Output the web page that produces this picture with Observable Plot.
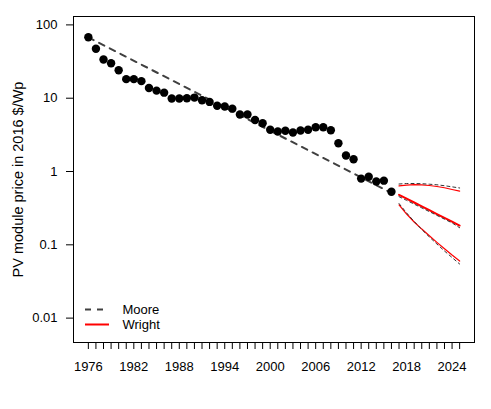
<!DOCTYPE html>
<html><head><meta charset="utf-8">
<script src="https://cdn.jsdelivr.net/npm/d3@7"></script>
<script src="https://cdn.jsdelivr.net/npm/@observablehq/plot@0.6"></script>
<style>body{margin:0;background:#fff} #chart{position:relative;width:491px;height:409px}</style>
</head><body><div id="chart"></div>
<script>
// Historical PV module prices (2016 $/Wp)
const years = [1976,1977,1978,1979,1980,1981,1982,1983,1984,1985,1986,1987,1988,1989,1990,1991,1992,1993,1994,1995,1996,1997,1998,1999,2000,2001,2002,2003,2004,2005,2006,2007,2008,2009,2010,2011,2012,2013,2014,2015,2016];
const prices = [68,47.2,33.7,30.0,24.1,18.2,18.2,17.1,13.8,12.7,11.9,9.9,9.9,10.0,10.2,9.4,8.9,7.9,7.7,7.2,6.0,6.0,5.05,4.55,3.72,3.51,3.59,3.40,3.63,3.71,4.02,4.02,3.65,2.43,1.65,1.47,0.80,0.85,0.73,0.75,0.53];
// Moore's law fit (endpoints)
const mooreYears = [1976, 2016];
const mooreFit = [67.6, 0.51];
// Forecasts
const forecastYears = [2017,2018,2019,2020,2021,2022,2023,2024,2025];
const wrightMid  = [0.481,0.426,0.378,0.335,0.297,0.263,0.233,0.207,0.183];
const wrightHigh = [0.638,0.654,0.661,0.659,0.644,0.624,0.600,0.568,0.539];
const wrightLow  = [0.351,0.263,0.205,0.164,0.133,0.108,0.0885,0.0726,0.0601];
const mooreMid   = [0.454,0.404,0.359,0.319,0.284,0.252,0.224,0.199,0.171];
const mooreHigh  = [0.675,0.686,0.686,0.682,0.671,0.659,0.640,0.618,0.596];
const mooreLow   = [0.366,0.272,0.208,0.162,0.128,0.1025,0.0823,0.0671,0.0547];
// Axes
const yTicks = [100,10,1,0.1,0.01];
const yTickLabels = ["100","10","1","0.1","0.01"];
const xTicks = d3.range(1976, 2026);
const xLabelYears = [1976,1982,1988,1994,2000,2006,2012,2018,2024];
const yLabel = "PV module price in 2016 $/Wp";
const legendLabels = ["Moore","Wright"];

const pts = years.map((y,i)=>({year:y, v:prices[i]}));
const moore = mooreYears.map((y,i)=>({year:y, v:mooreFit[i]}));
const fc = vals => forecastYears.map((y,i)=>({year:y, v:vals[i]}));
const font = "'Liberation Sans', Arial, Helvetica, sans-serif";

const W = 491, H = 409, mL = 73, mR = 17, mT = 16, mB = 67;
const chart = Plot.plot({
  width: W, height: H, marginLeft: mL, marginRight: mR, marginTop: mT, marginBottom: mB,
  style: {fontFamily: font, fontSize: "13px", background: "white", color: "black"},
  x: {domain: [1974.04, 2026.96]},
  y: {type: "log", domain: [0.00465, 130.2]},
  marks: [
    Plot.axisY({ticks: yTicks, tickFormat: d => yTickLabels[yTicks.indexOf(d)], tickSize: 7, tickPadding: 9,
      fontSize: 13, label: null}),
    Plot.axisX({ticks: xTicks, tickFormat: d => xLabelYears.includes(d) ? String(d) : "", tickSize: 7, tickPadding: 12,
      fontSize: 13, label: null}),
    Plot.text([yLabel], {frameAnchor: "left", textAnchor: "middle", lineAnchor: "middle", rotate: -90, dx: -55, fontSize: 14.5, fill: "black"}),
    Plot.line(moore, {x: "year", y: "v", stroke: "#404040", strokeWidth: 2, strokeDasharray: "6,6"}),
    Plot.dot(pts, {x: "year", y: "v", r: 4.2, fill: "black"}),
    Plot.line(fc(wrightMid), {x: "year", y: "v", stroke: "red", strokeWidth: 2}),
    Plot.line(fc(wrightHigh), {x: "year", y: "v", stroke: "red", strokeWidth: 1.2}),
    Plot.line(fc(wrightLow), {x: "year", y: "v", stroke: "red", strokeWidth: 1.2}),
    Plot.line(fc(mooreMid), {x: "year", y: "v", stroke: "#333", strokeWidth: 1, strokeDasharray: "3,3"}),
    Plot.line(fc(mooreHigh), {x: "year", y: "v", stroke: "#333", strokeWidth: 1, strokeDasharray: "3,3"}),
    Plot.line(fc(mooreLow), {x: "year", y: "v", stroke: "#333", strokeWidth: 1, strokeDasharray: "3,3"}),
    Plot.frame({stroke: "black", strokeWidth: 1})
  ]
});
document.getElementById("chart").appendChild(chart);

// Legend (inside bottom-left of the frame)
const svg = d3.select(chart);
const lg = svg.append("g").attr("font-family", font).attr("font-size", 13).attr("text-anchor", "start");
const lx = mL + 12, ly = H - mB - 32.5;
const styles = [
  {stroke: "#404040", width: 2, dash: "6,6"},
  {stroke: "red", width: 2, dash: null}
];
legendLabels.forEach((lab, i) => {
  const y = ly + i * 15;
  const s = styles[i];
  lg.append("line").attr("x1", lx).attr("x2", lx + 24).attr("y1", y).attr("y2", y)
    .attr("stroke", s.stroke).attr("stroke-width", s.width).attr("stroke-dasharray", s.dash);
  lg.append("text").attr("x", lx + 37.5).attr("y", y).attr("dy", "0.35em").attr("fill", "black")
    .attr("text-anchor", "start").text(lab);
});
</script>
</body></html>
